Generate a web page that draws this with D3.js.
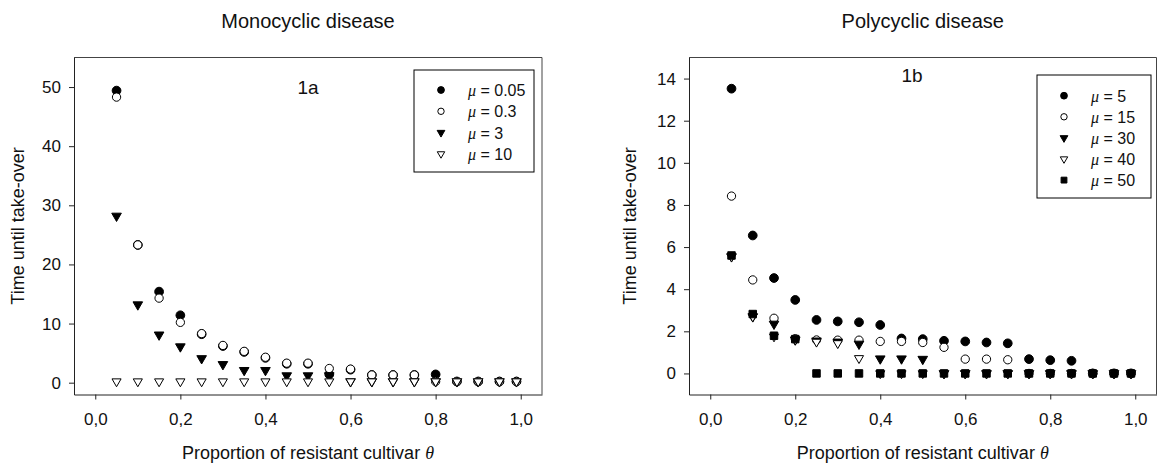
<!DOCTYPE html>
<html>
<head>
<meta charset="utf-8">
<script src="https://cdn.jsdelivr.net/npm/d3@7"></script>
<style>
  html, body { margin: 0; padding: 0; background: #fff; }
  svg { display: block; font-family: "Liberation Sans", Arial, sans-serif; }
</style>
</head>
<body>
<svg id="chart" width="1157" height="464"></svg>
<script>
// ---------------- DATA ----------------
const theta = [0.05,0.10,0.15,0.20,0.25,0.30,0.35,0.40,0.45,0.50,0.55,0.60,0.65,0.70,0.75,0.80,0.85,0.90,0.95,0.99];

// Panel 1a: Monocyclic disease
const monoLabels = ["0.05", "0.3", "3", "10"];
const monoMu005 = [49.4,23.3,15.4,11.4,8.2,6.2,5.2,4.2,3.2,3.2,1.4,2.2,1.3,1.3,1.3,1.4,0.2,0.2,0.2,0.2];
const monoMu03  = [48.3,23.3,14.3,10.2,8.3,6.3,5.3,4.3,3.3,3.3,2.4,2.3,1.3,1.3,1.3,0.2,0.2,0.2,0.2,0.2];
const monoMu3   = [28.2,13.2,8.1,6.1,4.1,3.1,2.1,2.1,1.2,1.2,1.2,0.2,0.2,0.2,0.2,0.2,0.2,0.2,0.2,0.2];
const monoMu10  = [0.2,0.2,0.2,0.2,0.2,0.2,0.2,0.2,0.2,0.2,0.2,0.2,0.2,0.2,0.2,0.2,0.2,0.2,0.2,0.2];
const monoYTicks = [0,10,20,30,40,50];

// Panel 1b: Polycyclic disease
const polyLabels = ["5", "15", "30", "40", "50"];
const polyMu5  = [13.52,6.55,4.53,3.49,2.54,2.47,2.43,2.30,1.66,1.63,1.55,1.52,1.47,1.43,0.68,0.63,0.60,0,0,0];
const polyMu15 = [8.42,4.44,2.62,1.65,1.59,1.58,1.58,1.52,1.52,1.47,1.24,0.68,0.68,0.65,0,0,0,0,0,0];
const polyMu30 = [5.55,2.70,2.35,1.60,1.55,1.50,1.40,0.70,0.70,0.68,0,0,0,0,0,0,0,0,0,0];
const polyMu40 = [5.55,2.70,1.75,1.60,1.50,1.43,0.72,0,0,0,0,0,0,0,0,0,0,0,0,0];
const polyMu50 = [5.60,2.82,1.79,1.63,0,0,0,0,0,0,0,0,0,0,0,0,0,0,0,0];
const polyYTicks = [0,2,4,6,8,10,12,14];

const xTicks = [0,0.2,0.4,0.6,0.8,1.0];

// ---------------- DRAWING ----------------
const svg = d3.select("#chart");
const fmtX = d => d3.format(".1f")(d).replace(".", ",");

const styles = {
  fc: {type: d3.symbolCircle, fill: "#000", rot: 0, size: 60, lsize: 36},
  oc: {type: d3.symbolCircle, fill: "#fff", rot: 0, size: 54, lsize: 32},
  ft: {type: d3.symbolTriangle, fill: "#000", rot: 180, size: 40, lsize: 26},
  ot: {type: d3.symbolTriangle, fill: "#fff", rot: 180, size: 36, lsize: 24},
  fs: {type: d3.symbolSquare, fill: "#000", rot: 0, size: 56, lsize: 34}
};

function panel(cfg) {
  const x = d3.scaleLinear().domain([-0.05, 1.05]).range([cfg.left, cfg.right]);
  const y = d3.scaleLinear().domain(cfg.yDomain).range([cfg.bottom, cfg.top]);
  const g = svg.append("g");

  // frame (top & right)
  g.append("path")
    .attr("d", `M${cfg.left},${cfg.top}H${cfg.right}V${cfg.bottom}`)
    .attr("fill", "none").attr("stroke", "#444").attr("stroke-width", 1);

  // axes
  const xa = g.append("g").attr("transform", `translate(0,${cfg.bottom})`)
    .call(d3.axisBottom(x).tickValues(xTicks).tickFormat(fmtX).tickSize(5).tickSizeOuter(0).tickPadding(13));
  const ya = g.append("g").attr("transform", `translate(${cfg.left},0)`)
    .call(d3.axisLeft(y).tickValues(cfg.yTicks).tickSize(5).tickSizeOuter(0).tickPadding(8));
  [xa, ya].forEach(a => {
    a.selectAll("text").attr("font-size", 17).attr("font-family", "Liberation Sans, Arial, sans-serif").attr("fill", "#111");
    a.select(".domain").attr("stroke", "#222");
    a.selectAll(".tick line").attr("stroke", "#222");
  });

  // title
  g.append("text").attr("x", (cfg.left + cfg.right) / 2).attr("y", 28)
    .attr("text-anchor", "middle").attr("font-size", 20).attr("fill", "#111").text(cfg.title);

  // axis titles
  const xt = g.append("text").attr("x", x(0.5)).attr("y", 459)
    .attr("text-anchor", "middle").attr("font-size", 18).attr("fill", "#111");
  xt.append("tspan").text("Proportion of resistant cultivar ");
  xt.append("tspan").attr("font-family", "Liberation Serif, serif").attr("font-style", "italic").text("θ");

  g.append("text")
    .attr("transform", `translate(${cfg.ytitleX},${(cfg.top + cfg.bottom) / 2}) rotate(-90)`)
    .attr("text-anchor", "middle").attr("font-size", 18).attr("fill", "#111")
    .text("Time until take-over");

  // panel label
  g.append("text").attr("x", x(cfg.labelX)).attr("y", cfg.labelY)
    .attr("text-anchor", "middle").attr("font-size", 19).attr("fill", "#111").text(cfg.label);

  // data points
  cfg.series.forEach(s => {
    const st = styles[s.style];
    const sym = d3.symbol().type(st.type).size(st.size);
    g.append("g").selectAll("path").data(s.values).join("path")
      .attr("d", sym)
      .attr("transform", (v, i) => `translate(${x(theta[i])},${y(v)}) rotate(${st.rot})`)
      .attr("fill", st.fill).attr("stroke", "#000").attr("stroke-width", 1);
  });

  // legend
  const L = cfg.legend;
  g.append("rect").attr("x", L.x).attr("y", L.y).attr("width", L.w).attr("height", L.h)
    .attr("fill", "#fff").attr("stroke", "#000").attr("stroke-width", 1);
  cfg.series.forEach((s, i) => {
    const st = styles[s.style];
    const cy = L.y + L.first + i * L.step;
    g.append("path").attr("d", d3.symbol().type(st.type).size(st.lsize))
      .attr("transform", `translate(${L.x + L.symX},${cy}) rotate(${st.rot})`)
      .attr("fill", st.fill).attr("stroke", "#000").attr("stroke-width", 1);
    const t = g.append("text").attr("x", L.x + L.textX).attr("y", cy + 6)
      .attr("font-size", 16).attr("fill", "#111");
    t.append("tspan").attr("font-family", "Liberation Serif, serif").attr("font-style", "italic").text("μ");
    t.append("tspan").text(" = " + s.label);
  });
}

panel({
  left: 74, right: 542, top: 57.5, bottom: 394.5,
  yDomain: [-2, 55], yTicks: monoYTicks,
  title: "Monocyclic disease", ytitleX: 24,
  label: "1a", labelX: 0.5, labelY: 93.5,
  series: [
    {style: "fc", values: monoMu005, label: monoLabels[0]},
    {style: "oc", values: monoMu03, label: monoLabels[1]},
    {style: "ft", values: monoMu3, label: monoLabels[2]},
    {style: "ot", values: monoMu10, label: monoLabels[3]}
  ],
  legend: {x: 414, y: 70, w: 120, h: 102, first: 20, step: 21.3, symX: 27, textX: 54}
});

panel({
  left: 689, right: 1156.5, top: 57.5, bottom: 394.5,
  yDomain: [-1, 15], yTicks: polyYTicks,
  title: "Polycyclic disease", ytitleX: 636,
  label: "1b", labelX: 0.475, labelY: 82,
  series: [
    {style: "fc", values: polyMu5, label: polyLabels[0]},
    {style: "oc", values: polyMu15, label: polyLabels[1]},
    {style: "ft", values: polyMu30, label: polyLabels[2]},
    {style: "ot", values: polyMu40, label: polyLabels[3]},
    {style: "fs", values: polyMu50, label: polyLabels[4]}
  ],
  legend: {x: 1037, y: 75, w: 114, h: 123, first: 20.7, step: 21.1, symX: 27, textX: 54}
});
</script>
</body>
</html>
